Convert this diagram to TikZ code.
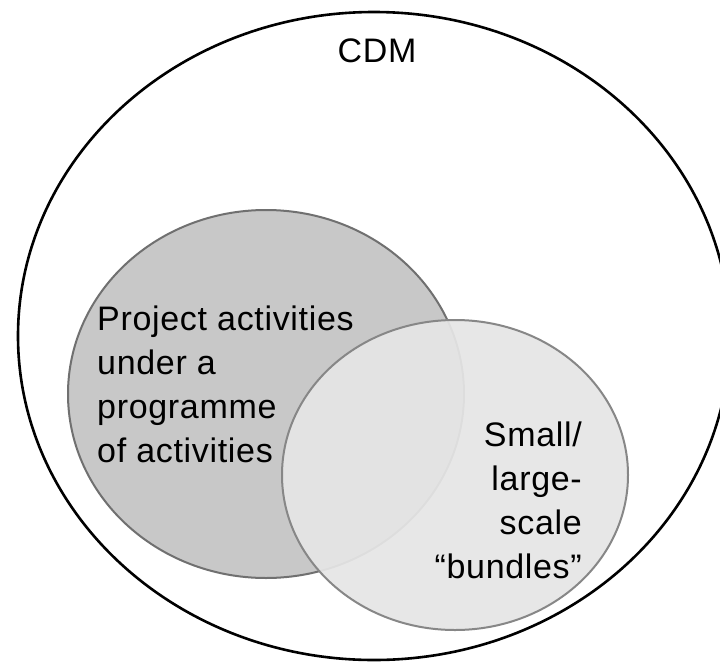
\documentclass[tikz,border=0pt]{standalone}
\usepackage{fontspec}
\setmainfont{Liberation Sans}[LetterSpace=2.0]
\usetikzlibrary{shapes.geometric}
\definecolor{darkfill}{RGB}{200,200,200}
\definecolor{darkline}{RGB}{112,112,112}
\definecolor{lightfill}{RGB}{230,230,230}
\definecolor{lightline}{RGB}{135,135,135}
\tikzset{
  outerset/.style={ellipse, draw=black, line width=2.6pt, inner sep=0pt},
  setbig/.style={ellipse, draw=darkline, line width=2pt, fill=darkfill, inner sep=0pt},
  setsmall/.style={ellipse, draw=lightline, line width=2pt, fill=lightfill, fill opacity=0.93, inner sep=0pt},
  lbl/.style={inner sep=0pt, font=\fontsize{34}{44}\selectfont, text=black},
}
\begin{document}
\begin{tikzpicture}[x=1pt,y=-1pt]
\useasboundingbox (0,0) rectangle (720,664);
\clip (0,0) rectangle (720,664);
\fill[white] (0,0) rectangle (720,664);
% outer CDM set
\node[outerset, minimum width=712pt, minimum height=648pt] (cdmset) at (374,336) {};
\node[lbl, anchor=base] (cdm) at (377,62) {CDM};
% inner sets
\node[setbig, minimum width=396pt, minimum height=368pt] (poa) at (266,394) {};
\node[setsmall, minimum width=346pt, minimum height=310pt] (bund) at (455,475) {};
\node[lbl, anchor=base west, align=left] (poatext) at (97,462)
  {Project activities\\under a\\programme\\of activities};
\node[lbl, anchor=base east, align=right] (bundtext) at (582,578)
  {Small/\\large-\\scale\\“bundles”};
\end{tikzpicture}
\end{document}
